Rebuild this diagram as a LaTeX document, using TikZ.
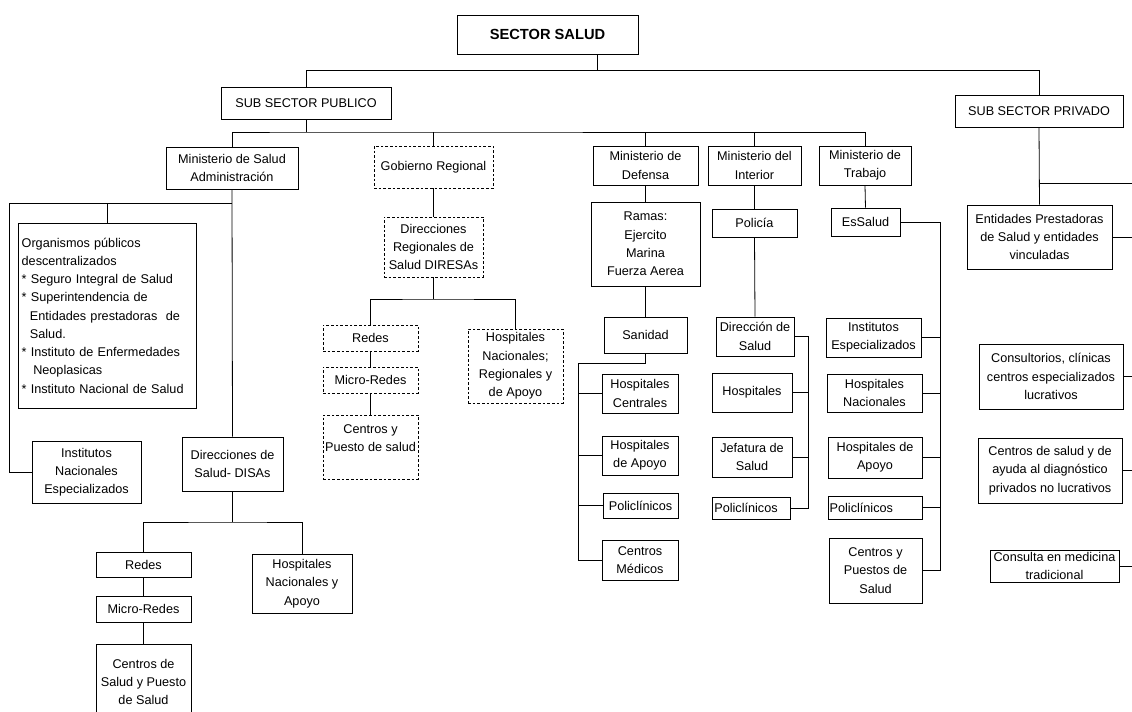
\documentclass[tikz,border=0pt]{standalone}
\usepackage{fontspec}
\setmainfont{Liberation Sans}
\usetikzlibrary{positioning}

\begin{document}
\begin{tikzpicture}[
    x=0.75pt, y=-0.75pt,
    font=\fontsize{9.5}{13.7}\selectfont,
    box/.style 2 args={draw=black, rectangle, line width=0.6pt, inner sep=1pt, align=center, minimum width=#1*0.75pt, minimum height=#2*0.75pt},
    dbox/.style 2 args={box={#1}{#2}, dash pattern=on 2pt off 1.5pt},
    link/.style={draw=black, line width=0.6pt}
]
\path[use as bounding box] (0,0) rectangle (1132,711);
\clip (0,0) rectangle (1132,711);

% ====================
%      Top levels
% ====================

% Nodes
\node[box={181}{39}, font=\bfseries\fontsize{11}{13}\selectfont] (sector) at (547.5,34.5) {SECTOR SALUD};
\node[box={170}{32}] (pub) at (306,103) {SUB SECTOR PUBLICO};
\node[box={168}{32}] (priv) at (1039,111) {SUB SECTOR PRIVADO};

\node[box={132}{42}] (minsa) at (232,168) {Ministerio de Salud\\Administración};
\node[dbox={119}{42}] (gobreg) at (433.5,167) {Gobierno Regional};
\node[box={105}{39}] (mindef) at (645.5,165.5) {Ministerio de\\Defensa};
\node[box={93}{39}] (minint) at (754.5,165.5) {Ministerio del\\Interior};
\node[box={92}{39}] (mintra) at (865,165.5) {Ministerio de\\Trabajo};

% Connections
\coordinate (jtop) at (597,70);
\coordinate (jpub) at (306,132);
\draw[link] (sector.south -| jtop) -- (jtop);
\draw[link] (pub.north) -- (pub.north |- jtop) -| (priv.north);
\draw[link] (pub.south) -- (jpub);
\draw[link] (minsa.north) |- (jpub) -| (mintra.north);
\draw[link] (gobreg.north) -- (gobreg.north |- jpub);
\draw[link] (mindef.north) -- (mindef.north |- jpub);
\draw[link] (minint.north) -- (minint.north |- jpub);

% ====================
%  Ministerio de Salud
% ====================

% Nodes
\node[box={178}{185}, align=left, text width=128pt] (organismos) at (107,315.5) {Organismos públicos\\descentralizados\\{*} Seguro Integral de Salud\\{*} Superintendencia de\\\hspace*{6.2pt}Entidades prestadoras~ de\\\hspace*{6.2pt}Salud.\\{*} Instituto de Enfermedades\\\hspace*{8.7pt}Neoplasicas\\{*} Instituto Nacional de Salud};
\node[box={109}{62}] (inst) at (86.5,472) {Institutos\\Nacionales\\Especializados};
\node[box={101}{54}] (disas) at (232.5,464) {Direcciones de\\Salud- DISAs};
\node[box={95}{25}] (redes1) at (143.5,564.5) {Redes};
\node[box={95}{26}] (micro1) at (143.5,609) {Micro-Redes};
\node[box={95}{76}] (centros1) at (143.5,682) {Centros de\\Salud y Puesto\\de Salud};
\node[box={100}{59}] (hosp1) at (302,583.5) {Hospitales\\Nacionales y\\Apoyo};

% Connections
\coordinate (jminsa) at (232,203);
\coordinate (jleft) at (9,203);
\coordinate (jdisas) at (232.5,522);
\draw[link] (minsa.south) -- (disas.north);
\draw[link] (jminsa) -- (jleft) |- (inst.west);
\draw[link] (organismos.north) -- (organismos.north |- jminsa);
\draw[link] (disas.south) -- (jdisas);
\draw[link] (redes1.north) |- (jdisas) -| (hosp1.north);
\draw[link] (redes1.south) -- (micro1.north);
\draw[link] (micro1.south) -- (centros1.north);

% ====================
%   Gobierno Regional
% ====================

% Nodes
\node[dbox={99}{60}] (diresa) at (433.5,247) {Direcciones\\Regionales de\\Salud DIRESAs};
\node[dbox={95}{26}] (redes2) at (370.5,338) {Redes};
\node[dbox={95}{26}] (micro2) at (370.5,380) {Micro-Redes};
\node[dbox={95}{64}] (centros2) at (370.5,447) {Centros y\\Puesto de salud\\\mbox{}};
\node[dbox={95}{74}] (hosp2) at (515.5,366) {Hospitales\\Nacionales;\\Regionales y\\de Apoyo};

% Connections
\coordinate (jdiresa) at (433.5,299);
\draw[link] (gobreg.south) -- (diresa.north);
\draw[link] (diresa.south) -- (jdiresa);
\draw[link] (redes2.north) |- (jdiresa) -| (hosp2.north);
\draw[link] (redes2.south) -- (micro2.north);
\draw[link] (micro2.south) -- (centros2.north);

% ====================
%       Defensa
% ====================

% Nodes
\node[box={109}{84}] (ramas) at (645.5,244) {Ramas:\\Ejercito\\Marina\\Fuerza Aerea};
\node[box={83}{36}] (sanidad) at (645.5,335) {Sanidad};
\node[box={76}{39}] (hcent) at (640,393.5) {Hospitales\\Centrales};
\node[box={76}{39}] (hapoyo3) at (640,455.5) {Hospitales\\de Apoyo};
\node[box={75}{25}] (poli3) at (640.5,505.5) {Policlínicos};
\node[box={76}{40}] (cmed) at (640,560) {Centros\\Médicos};

% Connections
\coordinate (jsan) at (578,363);
\draw[link] (mindef.south) -- (ramas.north);
\draw[link] (ramas.south) -- (sanidad.north);
\draw[link] (sanidad.south) |- (jsan) |- (cmed.west);
\draw[link] (hcent.west) -- (hcent.west -| jsan);
\draw[link] (hapoyo3.west) -- (hapoyo3.west -| jsan);
\draw[link] (poli3.west) -- (poli3.west -| jsan);

% ====================
%       Interior
% ====================

% Nodes
\node[box={85}{28}] (policia) at (754.5,223) {Policía};
\node[box={78}{39}] (dirsal) at (755,336.5) {Dirección de\\Salud};
\node[box={80}{39}] (hosp4) at (752,392.5) {Hospitales};
\node[box={80}{40}] (jefat) at (752,457) {Jefatura de\\Salud};
\node[box={78}{22}, align=left, text width=55pt] (poli4) at (751,508) {Policlínicos};

% Connections
\coordinate (jint) at (808,336.5);
\draw[link] (minint.south) -- (policia.north);
\draw[link] (policia.south) -- (dirsal.north);
\draw[link] (dirsal.east) -- (jint) |- (poli4.east);
\draw[link] (hosp4.east) -- (hosp4.east -| jint);
\draw[link] (jefat.east) -- (jefat.east -| jint);

% ====================
%       Trabajo
% ====================

% Nodes
\node[box={69}{28}] (essalud) at (865.5,222) {EsSalud};
\node[box={95}{39}] (inst5) at (873.5,337.5) {Institutos\\Especializados};
\node[box={95}{38}] (hnac5) at (874.5,393) {Hospitales\\Nacionales};
\node[box={94}{41}] (hapoyo5) at (875,457.5) {Hospitales de\\Apoyo};
\node[box={94}{23}, align=left, text width=68pt] (poli5) at (875,507.5) {Policlínicos};
\node[box={93}{65}] (cpuestos5) at (875.5,570.5) {Centros y\\Puestos de\\Salud};

% Connections
\coordinate (jtra) at (940,222);
\draw[link] (mintra.south) -- (essalud.north);
\draw[link] (essalud.east) -- (jtra) |- (cpuestos5.east);
\draw[link] (inst5.east) -- (inst5.east -| jtra);
\draw[link] (hnac5.east) -- (hnac5.east -| jtra);
\draw[link] (hapoyo5.east) -- (hapoyo5.east -| jtra);
\draw[link] (poli5.east) -- (poli5.east -| jtra);

% ====================
%    Sector privado
% ====================

% Nodes
\node[box={145}{64}] (eps) at (1039.5,237) {Entidades Prestadoras\\de Salud y entidades\\vinculadas};
\node[box={144}{65}] (consult) at (1051,376.5) {Consultorios, clínicas\\centros especializados\\lucrativos};
\node[box={144}{65}] (cdiag) at (1050,470.5) {Centros de salud y de\\ayuda al diagnóstico\\privados no lucrativos};
\node[box={129}{32}] (ctrad) at (1054.5,566) {Consulta en medicina\\tradicional};

% Connections
\coordinate (jpriv) at (1039,183);
\coordinate (privedge) at (1132,183);
\draw[link] (priv.south) -- (eps.north);
\draw[link] (jpriv) -- (privedge);
\draw[link] (eps.east) -- (eps.east -| privedge);
\draw[link] (consult.east) -- (consult.east -| privedge);
\draw[link] (cdiag.east) -- (cdiag.east -| privedge);
\draw[link] (ctrad.east) -- (ctrad.east -| privedge);

\end{tikzpicture}
\end{document}
